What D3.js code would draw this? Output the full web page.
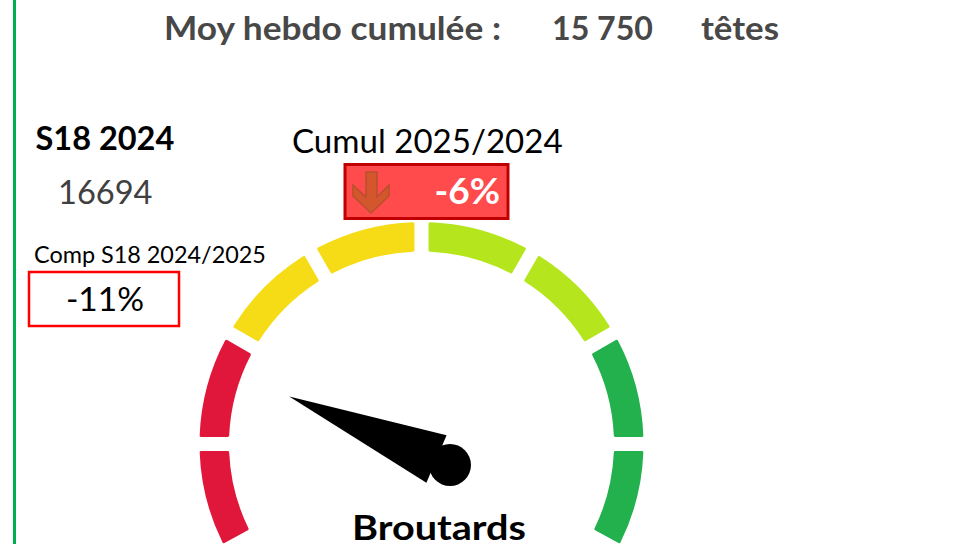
<!DOCTYPE html>
<html><head><meta charset="utf-8">
<script src="https://cdn.jsdelivr.net/npm/d3@7"></script>
<style>html,body{margin:0;padding:0;background:#fff;overflow:hidden}text{font-family:Lato,Carlito,sans-serif}</style>
</head><body><svg id="c" width="969" height="544"></svg>
<script>
const segmentSpans=[28.5,30,30,30,30,30,30,28.5];
const segmentColors=["#e0173a","#e0173a","#f6dc17","#f6dc17","#b5e61d","#b5e61d","#22b14c","#22b14c"];
const needleDegrees=[-67];
const svg=d3.select("#c");
const gaugeSpan=d3.sum(segmentSpans)/2*Math.PI/180;
const pie=d3.pie().sort(null).value(d=>d).startAngle(-gaugeSpan).endAngle(gaugeSpan).padAngle(0);
const arc=d3.arc().innerRadius(192.5).outerRadius(222).padAngle(0.068).padRadius(207).cornerRadius(1.5);

svg.append("rect").attr("x",13).attr("y",0).attr("width",3).attr("height",544).attr("fill","#00b050");

function t(x,y,s,size,fill,w,anchor,len){
  const e=svg.append("text").attr("x",x).attr("y",y).attr("font-size",size).attr("fill",fill).attr("font-weight",w||400).attr("text-anchor",anchor||"start").text(s);
  if(len) e.attr("textLength",len).attr("lengthAdjust","spacingAndGlyphs");
  return e;
}
t(164,40,"Moy hebdo cumulée :",32.5,"#484848",700,"start",337);
t(552,40,"15 750",32.5,"#484848",700,"start",101);
t(701,40,"têtes",32.5,"#484848",700,"start",78);
t(35.5,150,"S18 2024",32.5,"#000",700);
t(58,204,"16694",32.6,"#404040");
t(34,263,"Comp S18 2024/2025",23.4,"#000");
t(292,153,"Cumul 2025/2024",33.1,"#000");

svg.append("rect").attr("x",29).attr("y",272).attr("width",150).attr("height",54).attr("fill","#fff").attr("stroke","#ff0000").attr("stroke-width",2.5);
t(105,311,"-11%",33.5,"#000",400,"middle");

svg.append("rect").attr("x",345).attr("y",164.5).attr("width",163).attr("height",54).attr("fill","#ff4b4b").attr("stroke","#c00000").attr("stroke-width",3);
svg.append("path").attr("d","M366 172H377V197L389 185V196L371 213L353 196V185L366 197Z").attr("fill","#d3562c").attr("stroke","#b8502c").attr("stroke-width",1.5);
t(500,204,"-6%",37,"#fff",700,"end");

const g=svg.append("g").attr("transform","translate(421.5,444)");
g.selectAll("path").data(pie(segmentSpans)).join("path").attr("d",arc).attr("fill",(d,i)=>segmentColors[i]);

const hub=svg.append("g").attr("transform","translate(450,465)");
hub.append("circle").attr("r",21).attr("fill","#000");
const n=svg.append("g").attr("transform",`translate(436.5,459) rotate(${needleDegrees[0]})`);
const line=d3.line();
n.append("path").attr("d",line([[-25.8,0],[25.8,0],[0,-160]])+"Z").attr("fill","#000");

t(352,540,"Broutards",33.5,"#000",700,"start",174);
</script></body></html>
